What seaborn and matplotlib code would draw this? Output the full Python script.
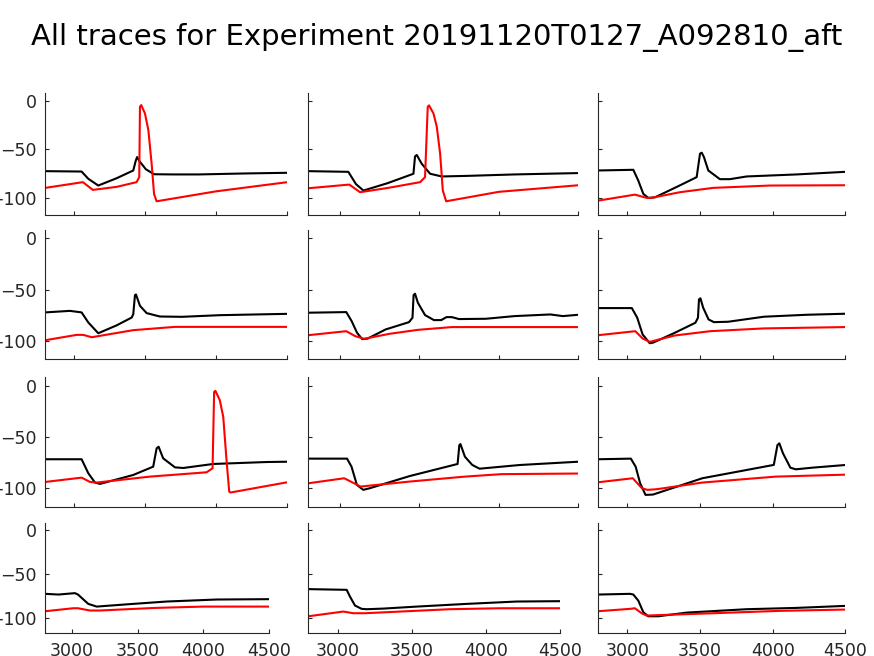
import matplotlib
matplotlib.use("Agg")
import matplotlib.pyplot as plt
import seaborn as sns

# trace data (time in ms, potential in mV)
p11_black_t = [2800, 3055, 3102, 3172, 3300, 3418, 3435, 3445, 3460, 3506, 3564, 3700, 3880, 4200, 4500]
p11_black_v = [-72.6, -73, -80.5, -87.5, -80, -71.9, -62, -58, -62, -70.6, -75.8, -76, -76, -75, -74.3]
p11_red_t = [2800, 3064, 3134, 3300, 3441, 3460, 3465, 3474, 3500, 3524, 3547, 3564, 3582, 4000, 4500]
p11_red_v = [-89.9, -84, -92, -88.9, -84, -78.8, -5.9, -4.2, -12.8, -30.2, -64.9, -96.2, -103.8, -93.5, -84]

p12_black_t = [2800, 3052, 3100, 3147, 3300, 3462, 3472, 3483, 3514, 3567, 3640, 3800, 4100, 4500]
p12_black_v = [-72.6, -73.3, -86, -92.7, -85, -75.3, -57.3, -55.9, -64.9, -75.3, -78.1, -77.5, -76, -74.6]
p12_red_t = [2800, 3058, 3126, 3300, 3504, 3535, 3552, 3560, 3588, 3609, 3630, 3647, 3668, 4000, 4500]
p12_red_v = [-90.3, -86.5, -94.4, -90, -84, -78.8, -5.9, -4.5, -12.8, -26.7, -54.5, -92.7, -103.8, -94, -87.2]

p13_black_t = [2800, 3041, 3075, 3110, 3144, 3190, 3350, 3477, 3500, 3512, 3527, 3557, 3637, 3706, 3821, 4165, 4500]
p13_black_v = [-71.9, -71.2, -82.3, -96.2, -100.3, -99.7, -88.2, -78.8, -54.5, -53.5, -58, -71.9, -80.9, -80.9, -78.1, -76, -73.3]
p13_red_t = [2800, 3052, 3133, 3165, 3362, 3591, 3981, 4500]
p13_red_v = [-103.1, -96.9, -100.3, -100.3, -94.4, -89.9, -87.5, -87.2]

p21_black_t = [2800, 2973, 3055, 3102, 3172, 3300, 3407, 3418, 3430, 3437, 3465, 3512, 3605, 3760, 4026, 4500]
p21_black_v = [-72.3, -70.8, -72.3, -82.1, -92.6, -85, -77.3, -74, -55.4, -54.8, -65.9, -73, -76.3, -76.6, -75, -73.7]
p21_red_t = [2800, 3020, 3067, 3126, 3418, 3710, 4500]
p21_red_v = [-99.4, -94.2, -94.2, -96.5, -89.6, -86.4, -86.4]

p22_black_t = [2800, 3039, 3073, 3107, 3140, 3174, 3287, 3434, 3456, 3463, 3472, 3490, 3535, 3591, 3637,
               3670, 3704, 3749, 3918, 4099, 4324, 4403, 4500]
p22_black_v = [-72.6, -72, -80.8, -92.2, -98.4, -97.8, -88.9, -81.8, -77.5, -55.4, -54.1, -62.9, -74.9, -79.8, -79.8,
               -76.9, -76.9, -78.8, -78.5, -75.9, -74.3, -75.9, -74.6]
p22_red_t = [2800, 3039, 3095, 3152, 3310, 3490, 3704, 4500]
p22_red_v = [-94.5, -90.6, -95.4, -98, -93.2, -89.3, -86.6, -86.6]

p23_black_t = [2800, 3031, 3068, 3105, 3154, 3178, 3326, 3468, 3486, 3493, 3503, 3522, 3559, 3596, 3694, 3940, 4235, 4500]
p23_black_v = [-68.1, -68.1, -77.5, -93.8, -102.3, -101.7, -92.2, -82.4, -77.5, -59.6, -58.6, -67.8, -79.2, -81.8, -81.4, -76.5, -74.6, -73.6]
p23_red_t = [2800, 3055, 3105, 3154, 3326, 3571, 3940, 4500]
p23_red_v = [-94.5, -90.6, -97.7, -101, -94.8, -90.6, -87.9, -86.6]

p31_black_t = [2800, 3055, 3102, 3149, 3184, 3418, 3558, 3582, 3596, 3628, 3711, 3769, 3979, 4354, 4500]
p31_black_v = [-71.8, -71.8, -85.4, -94.5, -95.8, -87.1, -79, -61.2, -59.6, -70.9, -79.7, -80.3, -76.4, -74.5, -74.2]
p31_red_t = [2800, 3055, 3114, 3160, 3535, 3933, 3975, 3986, 3995, 4026, 4050, 4073, 4092, 4101, 4500]
p31_red_v = [-93.9, -89.7, -93.9, -94.5, -88.7, -84.5, -80.6, -6.2, -5.2, -14.3, -30.5, -72.5, -103.3, -104.2, -94.2]

p32_black_t = [2800, 3044, 3072, 3106, 3146, 3187, 3440, 3740, 3751, 3758, 3786, 3832, 3878, 4131, 4500]
p32_black_v = [-71.2, -71.2, -79, -96.8, -101.6, -100, -88.1, -76.4, -58, -57, -69.3, -77.3, -81, -77.4, -74.2]
p32_red_t = [2800, 3026, 3129, 3440, 3786, 4016, 4500]
p32_red_v = [-95.2, -90.3, -98.4, -93.5, -88.7, -86.3, -85.7]

p33_black_t = [2800, 3024, 3057, 3088, 3125, 3176, 3516, 4008, 4033, 4046, 4071, 4122, 4159, 4273, 4500]
p33_black_v = [-71.8, -71.2, -79, -95.2, -106.5, -106.2, -90.3, -77.3, -58, -56.3, -66, -80, -81.6, -80, -77.4]
p33_red_t = [2800, 3037, 3100, 3138, 3201, 3516, 4021, 4500]
p33_red_v = [-94.2, -90.3, -100, -101.6, -101, -94.5, -88.7, -86.8]

p41_black_t = [2800, 2900, 3025, 3048, 3126, 3190, 3225, 3468, 3721, 4101, 4500]
p41_black_v = [-72.8, -73.6, -72, -73.6, -84.3, -87.4, -87, -84.3, -81.6, -79.3, -78.9]
p41_red_t = [2800, 3012, 3048, 3139, 3215, 3620, 3999, 4500]
p41_red_v = [-92.7, -89.3, -89.3, -91.9, -91.9, -89, -87.4, -87.4]

p42_black_t = [2800, 3059, 3081, 3115, 3160, 3194, 3306, 3532, 3869, 4207, 4500]
p42_black_v = [-67.4, -68.2, -75.9, -86.2, -90, -90.4, -89.7, -87.4, -84.3, -81.6, -81.2]
p42_red_t = [2800, 3036, 3104, 3183, 3419, 3756, 4094, 4500]
p42_red_v = [-98.5, -93.1, -95, -95, -93.1, -90.4, -89.3, -89.3]

p43_black_t = [2800, 3018, 3041, 3075, 3110, 3144, 3213, 3408, 3821, 4165, 4500]
p43_black_v = [-73.6, -72.8, -73.6, -80.5, -93.9, -98.5, -98.5, -94.3, -90.4, -88.9, -86.6]
p43_red_t = [2800, 3018, 3052, 3098, 3133, 3190, 3591, 4050, 4500]
p43_red_v = [-92.7, -90, -89.3, -95, -97.7, -97.3, -95, -92.3, -90.8]

x_ticks = [3000, 3500, 4000, 4500]
y_ticks = [-100, -50, 0]
title = "All traces for Experiment 20191120T0127_A092810_aft"

panels = [
    [(p11_black_t, p11_black_v, p11_red_t, p11_red_v),
     (p12_black_t, p12_black_v, p12_red_t, p12_red_v),
     (p13_black_t, p13_black_v, p13_red_t, p13_red_v)],
    [(p21_black_t, p21_black_v, p21_red_t, p21_red_v),
     (p22_black_t, p22_black_v, p22_red_t, p22_red_v),
     (p23_black_t, p23_black_v, p23_red_t, p23_red_v)],
    [(p31_black_t, p31_black_v, p31_red_t, p31_red_v),
     (p32_black_t, p32_black_v, p32_red_t, p32_red_v),
     (p33_black_t, p33_black_v, p33_red_t, p33_red_v)],
    [(p41_black_t, p41_black_v, p41_red_t, p41_red_v),
     (p42_black_t, p42_black_v, p42_red_t, p42_red_v),
     (p43_black_t, p43_black_v, p43_red_t, p43_red_v)],
]

sns.set_theme(style="ticks")
plt.rcParams['font.family'] = ['DejaVu Sans']
plt.rcParams['axes.edgecolor'] = '#262626'
plt.rcParams['axes.linewidth'] = 0.8

W, H = 874, 656
fig = plt.figure(figsize=(W / 100, H / 100), dpi=100)

# axes box edges in pixels (MATLAB-ish subplot layout)
col_lr = [(45.3, 287.3), (308.3, 578.3), (598.3, 845.3)]
col_lr_last = [(45.3, 269.3), (308.3, 560.3), (598.3, 845.3)]
row_tb = [(93.3, 215), (230, 359.3), (377.3, 506.7), (523.3, 633.3)]

for r in range(4):
    for c in range(3):
        left, right = col_lr_last[c] if r == 3 else col_lr[c]
        top, bottom = row_tb[r]
        ax = fig.add_axes([left / W, 1 - bottom / H, (right - left) / W, (bottom - top) / H])
        bt, bv, rt, rv = panels[r][c]
        sns.lineplot(x=bt, y=bv, ax=ax, color='black', lw=1.5, sort=False, estimator=None)
        sns.lineplot(x=rt, y=rv, ax=ax, color='#ff0000', lw=1.5, sort=False, estimator=None)
        ax.set_xlim(2800, 4500)
        ax.set_ylim(-118, 8)
        ax.set_xticks(x_ticks)
        ax.set_yticks(y_ticks)
        ax.tick_params(direction='in', length=3, width=0.8, color='#262626',
                       labelcolor='#262626', labelsize=12.5)
        ax.tick_params(axis='x', pad=6)
        ax.tick_params(axis='y', pad=6)
        if r != 3:
            ax.set_xticklabels([])
        if c != 0:
            ax.set_yticklabels([])
        ax.set_xlabel('')
        ax.set_ylabel('')
        sns.despine(ax=ax)

fig.text(0.5, 1 - 44.5 / H, title, ha='center', va='baseline', fontsize=21, color='black')

fig.savefig('out.png', dpi=100)
